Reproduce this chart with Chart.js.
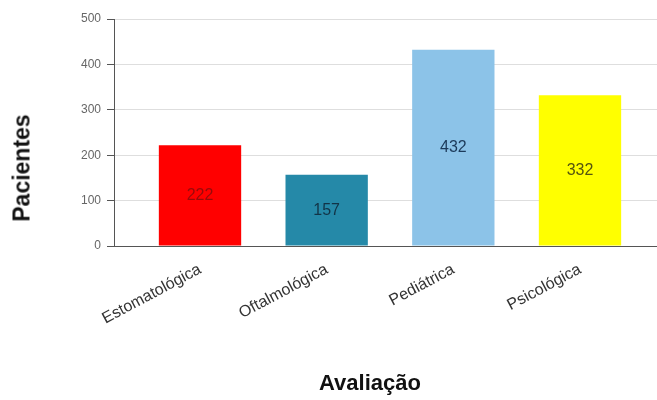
<!DOCTYPE html>
<html>
<head>
<meta charset="utf-8">
<script src="https://cdn.jsdelivr.net/npm/chart.js@4.4.1/dist/chart.umd.min.js"></script>
<style>
  html, body { margin: 0; padding: 0; background: #fff; }
  #wrap { position: relative; width: 657px; height: 400px; }
  .ttl { position: absolute; font-family: Arial, "Liberation Sans", sans-serif; font-weight: bold; color: #111; white-space: nowrap; }
  #ytitle { font-size: 23px; left: 22px; top: 168px; transform: translate(-50%, -50%) rotate(-90deg); }
  #xtitle { font-size: 22px; left: 370px; top: 383px; transform: translate(-50%, -50%); }
</style>
</head>
<body>
<div id="wrap">
  <canvas id="chart" width="657" height="400"></canvas>
  <div class="ttl" id="ytitle">Pacientes</div>
  <div class="ttl" id="xtitle">Avaliação</div>
</div>
<script>
const categories = ["Estomatológica", "Oftalmológica", "Pediátrica", "Psicológica"];
const pacientes = [222, 157, 432, 332];
const barColors = ["#ff0000", "#2589a8", "#8cc3e8", "#ffff00"];
const valueColors = ["#9a0a0a", "#123447", "#1c3a5a", "#55550f"];
const yTicks = [0, 100, 200, 300, 400, 500];

const FONT = 'Arial, "Liberation Sans", sans-serif';

// valores no meio de cada barra
const valueLabels = {
    id: "valueLabels",
    afterDatasetsDraw(chart) {
        const ctx = chart.ctx;
        const meta = chart.getDatasetMeta(0);
        ctx.save();
        ctx.font = "16px " + FONT;
        ctx.textAlign = "center";
        ctx.textBaseline = "middle";
        meta.data.forEach((bar, i) => {
            ctx.fillStyle = valueColors[i];
            ctx.fillText(String(pacientes[i]), bar.x, (bar.y + bar.base) / 2);
        });
        ctx.restore();
    }
};

new Chart(document.getElementById("chart").getContext("2d"), {
    type: "bar",
    data: {
        labels: categories,
        datasets: [{
            data: pacientes,
            backgroundColor: barColors,
            borderWidth: 0,
            categoryPercentage: 1,
            barPercentage: 0.65
        }]
    },
    options: {
        responsive: false,
        animation: false,
        devicePixelRatio: 1,
        layout: { padding: { top: 19, left: 0, right: 0, bottom: 0 } },
        plugins: { legend: { display: false }, tooltip: { enabled: false } },
        scales: {
            x: {
                grid: { display: false },
                border: { color: "#555", width: 1 },
                ticks: {
                    color: "#333",
                    font: { family: FONT, size: 16 },
                    minRotation: 28,
                    maxRotation: 28,
                    padding: 6,
                    autoSkip: false
                },
                // empurra as categorias para a direita do eixo y
                afterBuildTicks(s) { s._startValue = -0.679; s._valueRange = 4.287; },
                afterFit(s) { s.height = 154; }
            },
            y: {
                min: 0,
                max: 500,
                afterBuildTicks(s) { s.ticks = yTicks.map(v => ({ value: v })); },
                ticks: { color: "#666", font: { family: FONT, size: 12 }, padding: 6 },
                grid: { color: "#dedede", tickColor: "#555", tickLength: 7 },
                border: { color: "#555", width: 1 },
                afterFit(s) { s.width = 114; }
            }
        }
    },
    plugins: [valueLabels]
});
</script>
</body>
</html>
